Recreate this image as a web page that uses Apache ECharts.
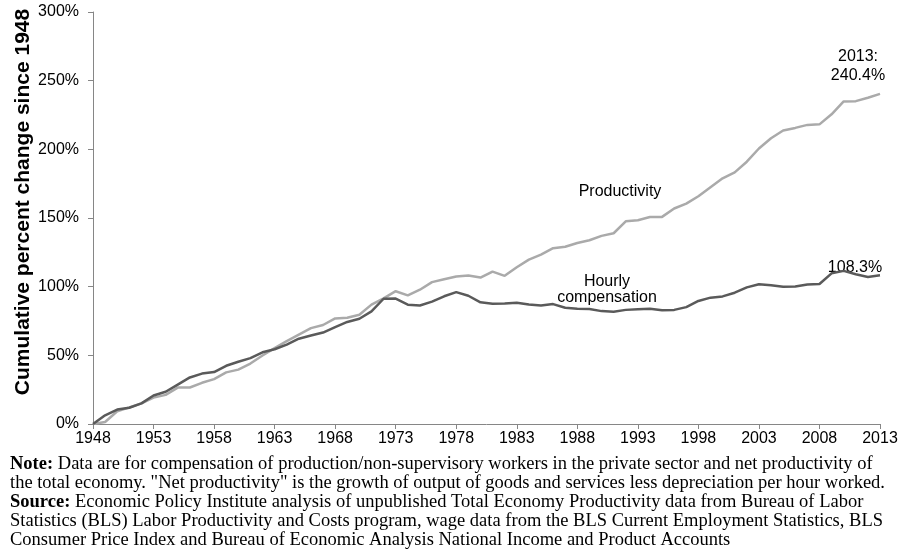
<!DOCTYPE html>
<html>
<head>
<meta charset="utf-8">
<script src="https://cdn.jsdelivr.net/npm/echarts@6/dist/echarts.min.js"></script>
<style>
  html, body { margin: 0; padding: 0; background: #fff; }
  #chart { width: 904px; height: 554px; }
</style>
</head>
<body>
<div id="chart"></div>
<script>
// years 1948..2013
const years = [];
for (let y = 1948; y <= 2013; y++) years.push(String(y));

const productivity = [
  0, 1.5, 9.3, 12.1, 15.0, 19.2, 21.2, 26.5, 26.6, 30.0,
  32.7, 37.6, 39.6, 44.0, 49.9, 55.2, 60.4, 65.1, 69.8, 72.1,
  76.9, 77.4, 79.6, 86.9, 91.5, 96.7, 93.7, 97.8, 103.3, 105.4,
  107.4, 108.1, 106.6, 111.0, 107.9, 114.1, 119.7, 123.4, 128.0, 129.1,
  131.8, 133.8, 137.0, 138.9, 147.6, 148.4, 150.7, 150.8, 156.9, 160.5,
  165.8, 172.4, 178.9, 183.2, 191.0, 200.6, 208.1, 213.7, 215.6, 217.8,
  218.2, 225.5, 234.9, 235.1, 237.6, 240.4
];

const compensation = [
  0, 6.3, 10.5, 11.8, 15.0, 20.8, 23.5, 28.7, 33.9, 36.7,
  37.8, 42.4, 45.3, 48.0, 52.2, 54.4, 57.8, 62.1, 64.4, 66.6,
  70.6, 74.3, 76.6, 82.0, 91.2, 91.3, 86.9, 86.3, 89.1, 93.0,
  96.0, 93.4, 88.6, 87.6, 87.8, 88.3, 87.0, 86.3, 87.3, 84.6,
  83.9, 83.7, 82.2, 81.8, 83.1, 83.5, 83.9, 82.8, 83.1, 85.1,
  89.6, 92.0, 92.9, 95.6, 99.5, 101.7, 101.0, 100.0, 100.2, 101.6,
  101.9, 109.7, 111.5, 109.0, 107.1, 108.3
];

const noteLines = [
  "{b|Note:} Data are for compensation of production/non-supervisory workers in the private sector and net productivity of",
  "the total economy. \"Net productivity\" is the growth of output of goods and services less depreciation per hour worked.",
  "{b|Source:} Economic Policy Institute analysis of unpublished Total Economy Productivity data from Bureau of Labor",
  "Statistics (BLS) Labor Productivity and Costs program, wage data from the BLS Current Employment Statistics, BLS",
  "Consumer Price Index and Bureau of Economic Analysis National Income and Product Accounts"
];

const sans = "Liberation Sans, Arial, sans-serif";
const serif = "Liberation Serif, Times New Roman, serif";
const noteSize = 18.5;

const chart = echarts.init(document.getElementById("chart"));

const annotations = [
  { x: 620, y: 192, text: "Productivity" },
  { x: 607, y: 282, text: "Hourly" },
  { x: 607, y: 298, text: "compensation" },
  { x: 858, y: 57, text: "2013:" },
  { x: 858, y: 76, text: "240.4%" },
  { x: 855, y: 268, text: "108.3%" }
].map(a => ({
  type: "text",
  x: a.x, y: a.y,
  style: {
    text: a.text, fill: "#000", font: "16px " + sans,
    textAlign: "center", textVerticalAlign: "middle"
  }
}));

const notes = noteLines.map((t, i) => ({
  type: "text",
  x: 10,
  y: 464 + i * 19,
  style: {
    text: t,
    textVerticalAlign: "middle",
    rich: {
      b: { fontFamily: serif, fontSize: noteSize, fontWeight: "bold", fill: "#000" }
    },
    fontFamily: serif, fontSize: noteSize, fill: "#000"
  }
}));

chart.setOption({
  animation: false,
  grid: { left: 93, right: 24, top: 12, bottom: 130, containLabel: false, outerBoundsMode: "none" },
  xAxis: {
    type: "category",
    data: years,
    boundaryGap: false,
    axisLine: { lineStyle: { color: "#868686", width: 1 } },
    axisTick: { interval: 4, length: 5, lineStyle: { color: "#868686" } },
    axisLabel: { interval: 4, color: "#000", fontSize: 16, fontFamily: sans, margin: 7 }
  },
  yAxis: {
    type: "value",
    min: 0, max: 300, interval: 50,
    name: "Cumulative percent change since 1948",
    nameLocation: "middle",
    nameGap: 59,
    nameMoveOverlap: false,
    nameTextStyle: { color: "#000", fontSize: 21, fontWeight: "bold", fontFamily: sans, padding: [0, 0, 0, 32] },
    axisLine: { show: true, lineStyle: { color: "#868686", width: 1 } },
    axisTick: { show: true, length: 5, lineStyle: { color: "#868686" } },
    splitLine: { show: false },
    axisLabel: { formatter: "{value}%", color: "#000", fontSize: 16, fontFamily: sans, margin: 14 }
  },
  series: [
    {
      name: "Productivity",
      type: "line",
      data: productivity,
      symbol: "none",
      lineStyle: { color: "#aaaaaa", width: 2.5 }
    },
    {
      name: "Hourly compensation",
      type: "line",
      data: compensation,
      symbol: "none",
      lineStyle: { color: "#5a5a5a", width: 2.5 }
    }
  ],
  graphic: annotations.concat(notes)
});
</script>
</body>
</html>
